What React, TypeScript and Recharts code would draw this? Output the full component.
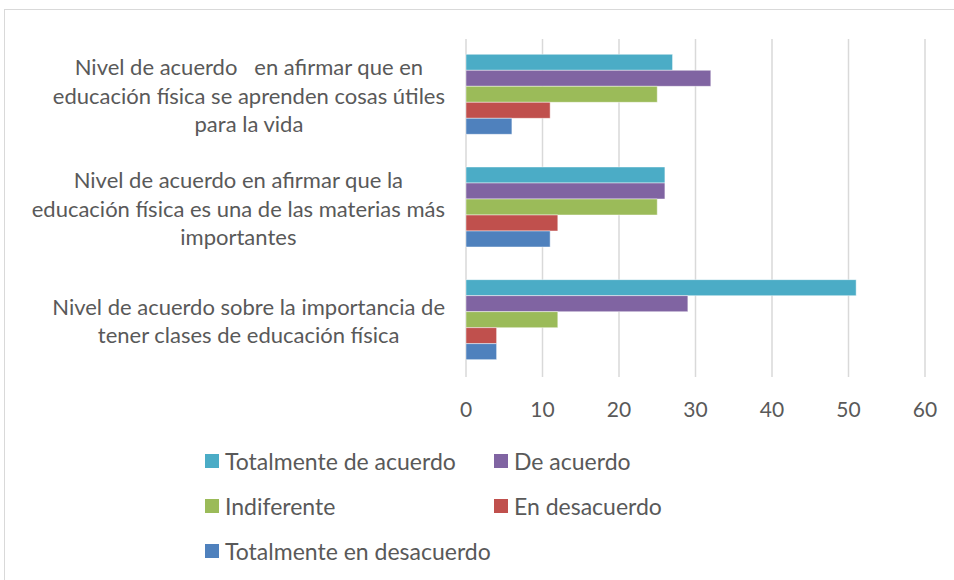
import React from 'react';
import { BarChart, Bar, XAxis, YAxis, CartesianGrid } from 'recharts';

const categories = [
  'Nivel de acuerdo   en afirmar que en|educación física se aprenden cosas útiles|para la vida',
  'Nivel de acuerdo en afirmar que la|educación física es una de las materias más|importantes',
  'Nivel de acuerdo sobre la importancia de|tener clases de educación física',
];

const seriesNames = [
  'Totalmente de acuerdo',
  'De acuerdo',
  'Indiferente',
  'En desacuerdo',
  'Totalmente en desacuerdo',
];
const seriesColors = ['#4BACC6', '#8064A2', '#9BBB59', '#C0504D', '#4F81BD'];

const totalmenteDeAcuerdo = [27, 26, 51];
const deAcuerdo = [32, 26, 29];
const indiferente = [25, 25, 12];
const enDesacuerdo = [11, 12, 4];
const totalmenteEnDesacuerdo = [6, 11, 4];

const xTicks = [0, 10, 20, 30, 40, 50, 60];

const seriesValues = [totalmenteDeAcuerdo, deAcuerdo, indiferente, enDesacuerdo, totalmenteEnDesacuerdo];

const data = categories.map((c, i) => {
  const row: Record<string, any> = { name: c };
  seriesNames.forEach((s, j) => {
    row[s] = seriesValues[j][i];
  });
  return row;
});

const FONT = 'Lato, "Open Sans", sans-serif';
const TEXT = '#595959';
const LABEL_SIZE = 22;

let ctx: CanvasRenderingContext2D | null = null;
const measure = (t: string) => {
  if (!ctx) ctx = document.createElement('canvas').getContext('2d');
  if (!ctx) return t.length * 9.5;
  ctx.font = `${LABEL_SIZE}px Lato`;
  return ctx.measureText(t).width;
};

const CategoryTick = (props: any) => {
  const { x, y, payload } = props;
  const lines: string[] = String(payload.value).split('|');
  const maxW = Math.max(...lines.map(measure));
  const cx = x - 21 - maxW / 2;
  const lh = 28.5;
  const start = y - ((lines.length - 1) * lh) / 2;
  return (
    <g>
      {lines.map((l, i) => (
        <text
          key={i}
          x={cx}
          y={start + i * lh}
          textAnchor="middle"
          dominantBaseline="central"
          fill={TEXT}
          fontSize={LABEL_SIZE}
          fontFamily={FONT}
          style={{ whiteSpace: 'pre' }}
        >
          {l}
        </text>
      ))}
    </g>
  );
};

const ValueTick = (props: any) => {
  const { x, y, payload } = props;
  return (
    <text x={x} y={y + 31} textAnchor="middle" dominantBaseline="central" fill={TEXT} fontSize={21} fontFamily={FONT}>
      {payload.value}
    </text>
  );
};

const App = () => {
  return (
    <div style={{ position: 'relative', width: 954, height: 580, background: '#fff', overflow: 'hidden' }}>
      <style>{'body{margin:0}'}</style>
      <div
        style={{
          position: 'absolute',
          left: 4,
          top: 9,
          width: 980,
          height: 600,
          border: '1px solid #D9D9D9',
        }}
      />
      <div style={{ position: 'absolute', left: 0, top: 0 }}>
        <BarChart
          width={954}
          height={580}
          data={data}
          layout="vertical"
          margin={{ top: 39, right: 29, left: 0, bottom: 163 }}
          barCategoryGap="13.6%"
          barGap={0}
        >
          <CartesianGrid horizontal={false} stroke="#D9D9D9" strokeWidth={1.5} />
          <XAxis
            type="number"
            domain={[0, 60]}
            ticks={xTicks}
            axisLine={false}
            tickLine={false}
            tickSize={0}
            tickMargin={0}
            height={40}
            tick={<ValueTick />}
            interval={0}
          />
          <YAxis
            type="category"
            dataKey="name"
            width={466}
            axisLine={false}
            tickLine={false}
            tickSize={0}
            tickMargin={0}
            tick={<CategoryTick />}
            interval={0}
          />
          {seriesNames.map((s, i) => (
            <Bar
              key={s}
              dataKey={s}
              fill={seriesColors[i]}
              stroke="rgba(255,255,255,0.45)"
              strokeWidth={1}
              isAnimationActive={false}
            />
          ))}
        </BarChart>
      </div>
      <div style={{ position: 'absolute', left: 205, top: 447, fontFamily: FONT, fontSize: 23, color: TEXT }}>
        {seriesNames.map((s, i) => (
          <div
            key={s}
            style={{
              position: 'absolute',
              left: i % 2 === 0 ? 0 : 289,
              top: Math.floor(i / 2) * 45,
              height: 28,
              display: 'flex',
              alignItems: 'center',
              whiteSpace: 'nowrap',
            }}
          >
            <span style={{ display: 'inline-block', width: 14, height: 14, background: seriesColors[i], marginRight: 6 }} />
            {s}
          </div>
        ))}
      </div>
    </div>
  );
};

export default App;
